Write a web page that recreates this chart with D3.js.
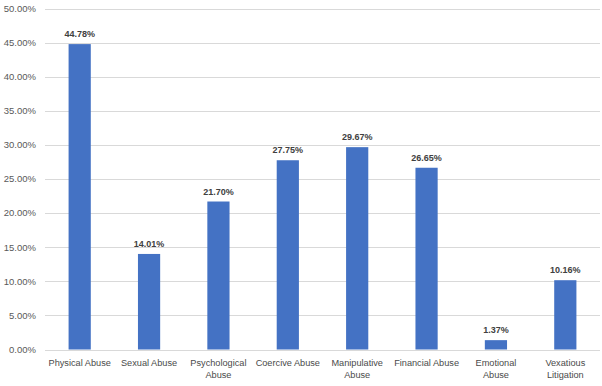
<!DOCTYPE html>
<html><head><meta charset="utf-8">
<script src="https://cdn.jsdelivr.net/npm/d3@7"></script>
<style>body{margin:0;background:#fff}svg{display:block}</style>
</head><body>
<script>
const categories = [["Physical Abuse"],["Sexual Abuse"],["Psychological","Abuse"],["Coercive Abuse"],["Manipulative","Abuse"],["Financial Abuse"],["Emotional","Abuse"],["Vexatious","Litigation"]];
const values = [44.78, 14.01, 21.70, 27.75, 29.67, 26.65, 1.37, 10.16];
const yTicks = [0,5,10,15,20,25,30,35,40,45,50];

const W=602,H=386;
const svg=d3.select("body").append("svg").attr("width",W).attr("height",H);
const font="'Liberation Sans', Arial, sans-serif";
const x=d3.scaleBand().domain(d3.range(categories.length)).range([45,600]).paddingInner(0.68).paddingOuter(0.34);
const y=d3.scaleLinear().domain([0,50]).range([349.5,8.5]);

svg.append("g").selectAll("line").data(yTicks).join("line")
 .attr("x1",45).attr("x2",600).attr("y1",d=>Math.round(y(d))+0.5).attr("y2",d=>Math.round(y(d))+0.5)
 .attr("stroke","#d9d9d9").attr("stroke-width",1);

svg.append("g").selectAll("text").data(yTicks).join("text")
 .attr("x",36).attr("y",d=>y(d)).attr("dy","0.35em").attr("text-anchor","end")
 .attr("font-family",font).attr("font-size",9.5).attr("fill","#595959")
 .text(d=>d.toFixed(2)+"%");

svg.append("g").selectAll("rect").data(values).join("rect")
 .attr("x",(d,i)=>x(i)).attr("width",x.bandwidth())
 .attr("y",d=>y(d)).attr("height",d=>y(0)-y(d)).attr("fill","#4472C4");

svg.append("g").selectAll("text").data(values).join("text")
 .attr("x",(d,i)=>x(i)+x.bandwidth()/2).attr("y",d=>y(d)-7)
 .attr("text-anchor","middle").attr("font-family",font).attr("font-size",9).attr("font-weight","bold").attr("fill","#404040")
 .text(d=>d.toFixed(2)+"%");

const cat=svg.append("g").selectAll("text").data(categories).join("text")
 .attr("x",(d,i)=>x(i)+x.bandwidth()/2).attr("y",366)
 .attr("text-anchor","middle").attr("font-family",font).attr("font-size",9.2).attr("fill","#4a4a4a");
cat.each(function(d,i){
  const t=d3.select(this);
  d.forEach((s,j)=>t.append("tspan").attr("x",x(i)+x.bandwidth()/2).attr("dy",j?12:0).text(s));
});
</script>
</body></html>
